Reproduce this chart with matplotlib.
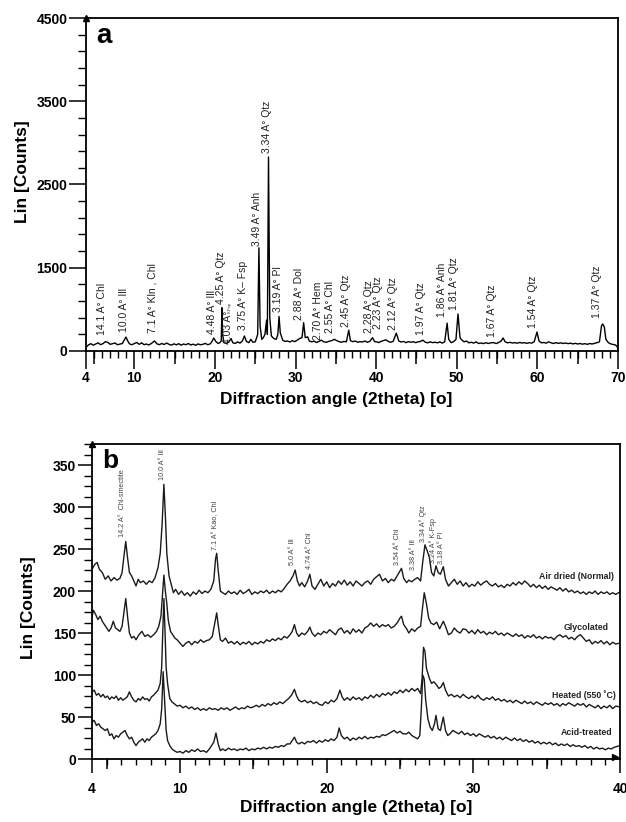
import matplotlib
matplotlib.use('Agg')
from matplotlib import pyplot as plt
from matplotlib.ticker import MultipleLocator, FixedLocator

plt.rcParams['font.family'] = ['Liberation Sans', 'DejaVu Sans']

# ---- panel a: bulk sample pattern (2theta, counts) ----
bulk = [
    (4.0, 545), (4.3, 572), (4.6, 588), (4.9, 570), (5.2, 584), (5.5, 598), (5.8, 576),
    (6.1, 588), (6.4, 612), (6.7, 604), (7.0, 580), (7.3, 588), (7.6, 596), (7.9, 575),
    (8.2, 582), (8.5, 590), (8.8, 640), (8.96, 668), (9.15, 625), (9.4, 585), (9.7, 575),
    (10.0, 590), (10.3, 602), (10.6, 580), (10.9, 598), (11.2, 576), (11.5, 584), (11.8, 572),
    (12.1, 590), (12.5, 620), (12.8, 586), (13.1, 576), (13.4, 590), (13.7, 578), (14.0, 596),
    (14.3, 580), (14.6, 570), (14.9, 586), (15.2, 574), (15.5, 588), (15.8, 570), (16.1, 584),
    (16.4, 575), (16.7, 590), (17.0, 572), (17.3, 582), (17.6, 568), (17.9, 585), (18.2, 575),
    (18.5, 580), (18.8, 592), (19.1, 575), (19.4, 585), (19.6, 610), (19.85, 656), (20.1, 615),
    (20.4, 590), (20.6, 600), (20.78, 620), (20.86, 1020), (20.95, 700), (21.1, 600), (21.4, 592),
    (21.7, 605), (22.0, 650), (22.2, 600), (22.5, 590), (22.8, 610), (23.1, 595), (23.4, 620),
    (23.65, 680), (23.9, 615), (24.2, 600), (24.45, 640), (24.7, 605), (25.0, 610), (25.3, 700),
    (25.45, 1740), (25.6, 800), (25.8, 640), (26.0, 660), (26.2, 700), (26.4, 870), (26.5, 700),
    (26.64, 2830), (26.8, 900), (27.0, 680), (27.3, 650), (27.6, 640), (27.8, 700), (27.95, 915),
    (28.1, 720), (28.4, 630), (28.7, 615), (29.0, 620), (29.3, 608), (29.6, 625), (29.9, 612),
    (30.2, 630), (30.5, 650), (30.8, 660), (31.0, 840), (31.2, 660), (31.5, 670), (31.7, 620),
    (32.0, 610), (32.3, 618), (32.6, 602), (32.9, 615), (33.2, 630), (33.5, 610), (33.8, 605),
    (34.1, 615), (34.5, 625), (34.8, 640), (35.1, 625), (35.4, 612), (35.7, 605), (36.0, 615),
    (36.3, 610), (36.6, 750), (36.8, 625), (37.1, 612), (37.4, 620), (37.7, 605), (38.0, 612),
    (38.3, 608), (38.6, 620), (38.9, 605), (39.2, 615), (39.55, 660), (39.8, 612), (40.1, 610),
    (40.3, 600), (40.6, 615), (40.9, 625), (41.2, 635), (41.5, 615), (41.8, 605), (42.1, 615),
    (42.5, 715), (42.8, 620), (43.1, 608), (43.4, 615), (43.7, 600), (44.0, 612), (44.3, 605),
    (44.6, 612), (44.9, 600), (45.2, 610), (45.5, 615), (45.8, 630), (46.1, 605), (46.4, 598),
    (46.7, 610), (47.0, 600), (47.3, 605), (47.6, 598), (47.9, 610), (48.2, 595), (48.5, 610),
    (48.8, 835), (49.0, 640), (49.3, 600), (49.6, 612), (49.9, 640), (50.15, 945), (50.4, 660),
    (50.6, 635), (50.9, 610), (51.2, 620), (51.5, 598), (51.8, 605), (52.1, 595), (52.4, 610),
    (52.7, 590), (53.0, 596), (53.3, 588), (53.6, 600), (53.9, 590), (54.2, 598), (54.6, 600),
    (54.9, 590), (55.2, 602), (55.5, 620), (55.75, 656), (56.0, 610), (56.3, 598), (56.6, 604),
    (56.9, 596), (57.2, 600), (57.5, 594), (57.8, 602), (58.1, 596), (58.4, 600), (58.7, 592),
    (59.0, 600), (59.3, 595), (59.6, 610), (59.95, 728), (60.2, 620), (60.5, 598), (60.8, 602),
    (61.1, 594), (61.4, 610), (61.7, 598), (62.0, 590), (62.3, 600), (62.6, 592), (62.9, 598),
    (63.2, 590), (63.5, 596), (63.8, 588), (64.1, 594), (64.4, 585), (64.7, 592), (65.0, 584),
    (65.3, 590), (65.6, 582), (65.9, 588), (66.2, 580), (66.5, 590), (66.8, 584), (67.1, 592),
    (67.4, 600), (67.7, 610), (67.95, 800), (68.1, 825), (68.3, 790), (68.5, 640), (68.8, 600),
    (69.1, 585), (69.4, 578), (69.7, 572), (70.0, 540),
]

yticks_a = [500, 1500, 2500, 3500, 4500]
yticklabels_a = ['0', '1500', '2500', '3500', '4500']
xticks_a = [4, 10, 20, 30, 40, 50, 60, 70]

# peak labels: text, 2theta, counts at label foot
labels_a = [
    ("14.1 A° Chl", 6.0, 692), ("10.0 A° Ill", 8.7, 728), ("7.1 A° Kln , Chl", 12.2, 716),
    ("4.48 A° Ill", 19.6, 704), ("4.25 A° Qtz", 20.75, 1060), ("4.03 A°", 21.6, 585),
    ("3.75 A° K– Fsp", 23.5, 752), ("3.49 A° Anh", 25.2, 1762), ("3.34 A° Qtz", 26.4, 2880),
    ("3.19 A° Pl", 27.8, 969), ("2.88 A° Dol", 30.45, 873), ("2.70 A° Hem", 32.8, 632),
    ("2.55 A° Chl", 34.3, 716), ("2.45 A° Qtz", 36.25, 788), ("2.28 A° Qtz", 39.1, 716),
    ("2.23 A° Qtz", 40.2, 764), ("2.12 A° Qtz", 42.1, 752), ("1.97 A° Qtz", 45.6, 692),
    ("1.86 A° Anh", 48.2, 909), ("1.81 A° Qtz", 49.7, 993), ("1.67 A° Qtz", 54.4, 668),
    ("1.54 A° Qtz", 59.5, 776), ("1.37 A° Qtz", 67.4, 897),
]

# ---- panel b: clay fraction patterns ----
air_dried = [
    (4.0, 226), (4.2, 232), (4.35, 234), (4.5, 226), (4.7, 222), (4.9, 214), (5.1, 218), (5.3, 212),
    (5.5, 216), (5.7, 213), (5.9, 215), (6.05, 222), (6.2, 245), (6.3, 259), (6.42, 240), (6.55, 222),
    (6.7, 218), (6.85, 212), (7.0, 206), (7.15, 214), (7.3, 210), (7.5, 212), (7.7, 208), (7.9, 212),
    (8.1, 210), (8.3, 216), (8.5, 228), (8.65, 245), (8.78, 280), (8.9, 327), (9.0, 290), (9.1, 245),
    (9.25, 218), (9.4, 208), (9.55, 198), (9.7, 202), (9.9, 196), (10.1, 200), (10.3, 195), (10.5, 198),
    (10.7, 194), (10.9, 199), (11.1, 196), (11.3, 201), (11.5, 197), (11.7, 200), (11.9, 198), (12.1, 202),
    (12.3, 212), (12.42, 238), (12.5, 245), (12.6, 225), (12.75, 200), (12.9, 198), (13.1, 196), (13.3, 200),
    (13.5, 197), (13.7, 199), (13.9, 196), (14.1, 201), (14.3, 197), (14.5, 199), (14.7, 202), (14.9, 196),
    (15.1, 199), (15.3, 197), (15.5, 200), (15.7, 198), (15.9, 201), (16.1, 197), (16.3, 200), (16.5, 198),
    (16.7, 201), (16.9, 199), (17.1, 203), (17.3, 208), (17.5, 212), (17.7, 218), (17.85, 225), (18.0, 212),
    (18.15, 206), (18.3, 210), (18.5, 205), (18.7, 212), (18.85, 220), (19.0, 206), (19.2, 202), (19.4, 208),
    (19.6, 214), (19.8, 206), (20.0, 211), (20.2, 204), (20.4, 209), (20.6, 206), (20.8, 212), (21.0, 208),
    (21.2, 213), (21.4, 207), (21.6, 211), (21.8, 206), (22.0, 212), (22.2, 209), (22.4, 206), (22.6, 210),
    (22.8, 212), (23.0, 208), (23.2, 214), (23.4, 217), (23.6, 220), (23.8, 212), (24.0, 215), (24.2, 210),
    (24.4, 214), (24.6, 212), (24.8, 218), (25.0, 224), (25.1, 227), (25.25, 215), (25.45, 210), (25.6, 213),
    (25.8, 211), (26.0, 214), (26.2, 216), (26.4, 212), (26.55, 235), (26.7, 255), (26.85, 248), (27.0, 240),
    (27.15, 222), (27.3, 218), (27.45, 230), (27.6, 222), (27.75, 220), (27.95, 229), (28.1, 214), (28.3, 206),
    (28.5, 210), (28.7, 214), (28.9, 208), (29.1, 212), (29.3, 206), (29.5, 210), (29.7, 205), (29.9, 208),
    (30.1, 206), (30.3, 211), (30.5, 207), (30.7, 210), (30.9, 212), (31.1, 208), (31.3, 206), (31.5, 209),
    (31.7, 205), (31.9, 207), (32.1, 204), (32.3, 208), (32.5, 206), (32.7, 210), (32.9, 207), (33.1, 211),
    (33.3, 208), (33.5, 212), (33.7, 209), (33.9, 205), (34.1, 208), (34.3, 204), (34.5, 207), (34.7, 203),
    (34.9, 206), (35.1, 202), (35.3, 205), (35.5, 203), (35.7, 201), (35.9, 204), (36.1, 200), (36.3, 203),
    (36.5, 199), (36.7, 201), (36.9, 198), (37.1, 200), (37.3, 197), (37.5, 199), (37.7, 196), (37.9, 199),
    (38.1, 197), (38.3, 200), (38.5, 196), (38.7, 199), (38.9, 197), (39.1, 199), (39.3, 196), (39.5, 198),
    (39.7, 196), (40.0, 199),
]

glycolated = [
    (4.0, 170), (4.1, 177), (4.25, 172), (4.4, 166), (4.55, 170), (4.7, 164), (4.85, 160), (5.0, 156),
    (5.15, 152), (5.3, 156), (5.45, 164), (5.6, 156), (5.75, 154), (5.9, 152), (6.05, 158), (6.2, 178),
    (6.3, 191), (6.42, 170), (6.55, 150), (6.7, 144), (6.85, 146), (7.0, 142), (7.2, 148), (7.4, 152),
    (7.6, 146), (7.8, 148), (8.0, 145), (8.2, 148), (8.4, 152), (8.55, 158), (8.7, 170), (8.8, 195),
    (8.9, 219), (9.0, 200), (9.1, 185), (9.2, 165), (9.35, 152), (9.5, 148), (9.65, 144), (9.8, 142),
    (10.0, 138), (10.2, 134), (10.4, 138), (10.6, 140), (10.8, 136), (11.0, 140), (11.2, 138), (11.4, 142),
    (11.6, 139), (11.8, 141), (12.0, 142), (12.2, 146), (12.35, 160), (12.5, 174), (12.6, 160), (12.75, 142),
    (12.9, 140), (13.1, 144), (13.3, 138), (13.5, 140), (13.7, 137), (13.9, 140), (14.1, 136), (14.3, 139),
    (14.5, 137), (14.7, 140), (14.9, 136), (15.1, 139), (15.3, 137), (15.5, 140), (15.7, 138), (15.9, 142),
    (16.1, 140), (16.3, 143), (16.5, 141), (16.7, 144), (16.9, 142), (17.1, 146), (17.3, 144), (17.5, 148),
    (17.65, 152), (17.8, 160), (17.95, 150), (18.1, 146), (18.3, 150), (18.5, 148), (18.7, 152), (18.85, 157),
    (19.0, 150), (19.2, 146), (19.4, 150), (19.6, 148), (19.8, 152), (20.0, 150), (20.2, 154), (20.4, 151),
    (20.6, 148), (20.8, 154), (21.0, 156), (21.2, 150), (21.4, 153), (21.6, 149), (21.8, 155), (22.0, 151),
    (22.2, 154), (22.4, 150), (22.6, 156), (22.8, 158), (23.0, 162), (23.2, 158), (23.4, 161), (23.6, 157),
    (23.8, 160), (24.0, 158), (24.2, 160), (24.4, 156), (24.6, 158), (24.8, 162), (25.0, 168), (25.1, 170),
    (25.25, 160), (25.45, 155), (25.6, 150), (25.8, 155), (26.0, 152), (26.2, 156), (26.4, 158), (26.5, 175),
    (26.65, 198), (26.8, 185), (26.95, 168), (27.1, 162), (27.3, 160), (27.5, 163), (27.7, 155), (27.95, 164),
    (28.1, 158), (28.3, 148), (28.5, 150), (28.7, 156), (28.9, 152), (29.1, 150), (29.3, 155), (29.5, 154),
    (29.7, 150), (29.9, 153), (30.1, 149), (30.3, 154), (30.5, 150), (30.7, 152), (30.9, 148), (31.1, 151),
    (31.3, 149), (31.5, 152), (31.7, 148), (31.9, 150), (32.1, 147), (32.3, 150), (32.5, 148), (32.7, 146),
    (32.9, 149), (33.1, 146), (33.3, 148), (33.5, 144), (33.7, 147), (33.9, 145), (34.1, 148), (34.3, 144),
    (34.5, 146), (34.7, 143), (34.9, 146), (35.1, 144), (35.3, 145), (35.5, 142), (35.7, 146), (35.9, 148),
    (36.1, 145), (36.3, 147), (36.5, 143), (36.7, 145), (36.9, 142), (37.1, 146), (37.3, 148), (37.5, 144),
    (37.7, 140), (37.9, 142), (38.1, 137), (38.3, 140), (38.5, 138), (38.7, 141), (38.9, 137), (39.1, 140),
    (39.3, 136), (39.5, 139), (39.7, 137), (40.0, 138),
]

heated = [
    (4.0, 80), (4.15, 82), (4.3, 76), (4.45, 78), (4.6, 74), (4.75, 77), (4.9, 73), (5.05, 75),
    (5.2, 71), (5.35, 74), (5.5, 72), (5.65, 75), (5.8, 70), (5.95, 73), (6.1, 70), (6.25, 72),
    (6.4, 74), (6.55, 80), (6.7, 74), (6.85, 70), (7.0, 68), (7.15, 72), (7.3, 70), (7.45, 74),
    (7.6, 71), (7.75, 72), (7.9, 69), (8.05, 74), (8.2, 76), (8.35, 79), (8.5, 82), (8.65, 90),
    (8.75, 110), (8.82, 150), (8.9, 191), (8.98, 150), (9.05, 110), (9.15, 90), (9.3, 72), (9.45, 68),
    (9.6, 66), (9.8, 63), (10.0, 64), (10.2, 61), (10.4, 63), (10.6, 60), (10.8, 62), (11.0, 59),
    (11.2, 61), (11.4, 58), (11.6, 60), (11.8, 58), (12.0, 61), (12.2, 59), (12.4, 60), (12.6, 58),
    (12.8, 61), (13.0, 59), (13.2, 61), (13.4, 58), (13.6, 60), (13.8, 62), (14.0, 59), (14.2, 61),
    (14.4, 60), (14.6, 63), (14.8, 61), (15.0, 62), (15.2, 64), (15.4, 62), (15.6, 65), (15.8, 63),
    (16.0, 66), (16.2, 64), (16.4, 67), (16.6, 65), (16.8, 68), (17.0, 66), (17.2, 69), (17.4, 72),
    (17.6, 76), (17.8, 83), (17.95, 75), (18.1, 70), (18.3, 68), (18.5, 70), (18.7, 67), (18.9, 69),
    (19.1, 66), (19.3, 68), (19.5, 65), (19.7, 64), (19.9, 68), (20.1, 66), (20.3, 70), (20.5, 68),
    (20.7, 72), (20.9, 82), (21.05, 74), (21.2, 70), (21.4, 73), (21.6, 70), (21.8, 74), (22.0, 71),
    (22.2, 73), (22.4, 70), (22.6, 74), (22.8, 72), (23.0, 76), (23.2, 73), (23.4, 77), (23.6, 74),
    (23.8, 78), (24.0, 76), (24.2, 79), (24.4, 76), (24.6, 80), (24.8, 78), (25.0, 82), (25.2, 79),
    (25.4, 83), (25.6, 80), (25.8, 84), (26.0, 81), (26.2, 84), (26.4, 78), (26.5, 95), (26.6, 133),
    (26.7, 128), (26.8, 108), (26.9, 102), (27.0, 96), (27.15, 90), (27.3, 92), (27.5, 88), (27.65, 84),
    (27.8, 86), (27.95, 91), (28.1, 82), (28.3, 75), (28.5, 77), (28.7, 74), (28.9, 76), (29.1, 73),
    (29.3, 77), (29.5, 74), (29.7, 72), (29.9, 75), (30.1, 72), (30.3, 76), (30.5, 72), (30.7, 70),
    (30.9, 73), (31.1, 71), (31.3, 74), (31.5, 70), (31.7, 72), (31.9, 69), (32.1, 71), (32.3, 68),
    (32.5, 70), (32.7, 67), (32.9, 70), (33.1, 68), (33.3, 66), (33.5, 69), (33.7, 66), (33.9, 68),
    (34.1, 65), (34.3, 68), (34.5, 66), (34.7, 64), (34.9, 67), (35.1, 65), (35.3, 67), (35.5, 64),
    (35.7, 66), (35.9, 63), (36.1, 66), (36.3, 64), (36.5, 67), (36.7, 65), (36.9, 63), (37.1, 66),
    (37.3, 64), (37.5, 66), (37.7, 62), (37.9, 65), (38.1, 63), (38.3, 61), (38.5, 64), (38.7, 60),
    (38.9, 63), (39.1, 61), (39.3, 64), (39.5, 60), (39.7, 63), (40.0, 62),
]

acid_treated = [
    (4.0, 44), (4.15, 46), (4.3, 40), (4.45, 42), (4.6, 38), (4.75, 36), (4.9, 34), (5.05, 36),
    (5.2, 28), (5.35, 30), (5.5, 24), (5.65, 28), (5.8, 26), (5.95, 30), (6.1, 32), (6.25, 34),
    (6.4, 28), (6.55, 24), (6.7, 26), (6.85, 20), (7.0, 16), (7.15, 20), (7.3, 22), (7.45, 24),
    (7.6, 20), (7.75, 24), (7.9, 22), (8.05, 26), (8.2, 28), (8.35, 30), (8.5, 34), (8.65, 42),
    (8.75, 60), (8.85, 104), (8.95, 70), (9.05, 35), (9.15, 22), (9.3, 16), (9.45, 12), (9.6, 10),
    (9.8, 8), (10.0, 9), (10.2, 7), (10.4, 10), (10.6, 8), (10.8, 11), (11.0, 9), (11.2, 12),
    (11.4, 9), (11.6, 10), (11.8, 8), (12.0, 12), (12.15, 16), (12.3, 20), (12.45, 31), (12.6, 18),
    (12.75, 10), (12.9, 12), (13.1, 10), (13.3, 13), (13.5, 11), (13.7, 12), (13.9, 10), (14.1, 12),
    (14.3, 11), (14.5, 13), (14.7, 10), (14.9, 12), (15.1, 11), (15.3, 13), (15.5, 12), (15.7, 14),
    (15.9, 12), (16.1, 14), (16.3, 13), (16.5, 15), (16.7, 14), (16.9, 16), (17.1, 15), (17.3, 18),
    (17.5, 18), (17.65, 22), (17.8, 26), (17.95, 20), (18.1, 18), (18.3, 20), (18.5, 18), (18.7, 21),
    (18.9, 20), (19.1, 22), (19.3, 19), (19.5, 22), (19.7, 20), (19.9, 23), (20.1, 21), (20.3, 24),
    (20.5, 22), (20.7, 26), (20.85, 37), (21.0, 28), (21.2, 24), (21.4, 26), (21.6, 22), (21.8, 25),
    (22.0, 23), (22.2, 26), (22.4, 24), (22.6, 27), (22.8, 24), (23.0, 26), (23.2, 25), (23.4, 27),
    (23.6, 26), (23.8, 29), (24.0, 28), (24.2, 30), (24.4, 32), (24.6, 34), (24.8, 31), (25.0, 33),
    (25.2, 30), (25.45, 30), (25.6, 32), (25.8, 28), (26.0, 26), (26.2, 24), (26.35, 28), (26.45, 60),
    (26.55, 100), (26.65, 95), (26.75, 70), (26.9, 48), (27.05, 38), (27.2, 34), (27.35, 42), (27.45, 52),
    (27.6, 36), (27.75, 34), (27.85, 42), (27.95, 50), (28.1, 34), (28.25, 28), (28.4, 30), (28.6, 34),
    (28.8, 32), (29.0, 30), (29.2, 33), (29.4, 29), (29.6, 31), (29.8, 28), (30.0, 30), (30.2, 27),
    (30.4, 30), (30.6, 28), (30.8, 26), (31.0, 28), (31.2, 25), (31.4, 27), (31.6, 24), (31.8, 26),
    (32.0, 23), (32.2, 26), (32.4, 24), (32.6, 22), (32.8, 25), (33.0, 22), (33.2, 24), (33.4, 21),
    (33.6, 23), (33.8, 20), (34.0, 22), (34.2, 19), (34.4, 21), (34.6, 18), (34.8, 20), (35.0, 18),
    (35.2, 20), (35.4, 17), (35.6, 19), (35.8, 16), (36.0, 18), (36.2, 16), (36.4, 18), (36.6, 15),
    (36.8, 17), (37.0, 15), (37.2, 16), (37.4, 14), (37.6, 16), (37.8, 13), (38.0, 15), (38.2, 12),
    (38.4, 14), (38.6, 12), (38.8, 13), (39.0, 11), (39.2, 13), (39.4, 12), (39.6, 14), (39.8, 15),
    (40.0, 16),
]

series_b = [air_dried, glycolated, heated, acid_treated]
series_names = ['Air dried (Normal)', 'Glycolated', 'Heated (550 ˚C)', 'Acid-treated']
# where each name sits: right end x, y
name_pos = [(39.6, 217), (39.2, 156), (39.7, 76), (39.5, 32)]

labels_b = [
    ("14.2 A°  Chl-smectite", 6.1, 264), ("10.0 A° Ill", 8.8, 332), ("7.1 A° Kao, Chl", 12.4, 249),
    ("5.0 A° Ill", 17.65, 231), ("4.74 A° Chl", 18.8, 226), ("3.54 A° Chl", 24.8, 231),
    ("3.38 A° Ill", 25.95, 225), ("3.34 A° Qtz", 26.55, 258), ("3.24 A° K-Fsp", 27.25, 233),
    ("3.18 A° Pl", 27.85, 232),
]
xticks_b = [4, 10, 20, 30, 40]
yticks_b = [0, 50, 100, 150, 200, 250, 300, 350]


def style_axis(ax, xlim, xticks, mid_ticks, long_len, mid_len, short_len, ylen, yminlen, xpad):
    ax.set_xlim(*xlim)
    ax.set_xticks(xticks)
    ax.set_xticklabels([str(t) for t in xticks], fontweight='bold', fontsize=10)
    ax.xaxis.set_minor_locator(MultipleLocator(1))
    ax.tick_params(axis='x', which='major', direction='out', length=long_len, width=1.1, pad=xpad)
    ax.tick_params(axis='x', which='minor', direction='out', length=short_len, width=1.0)
    ax.tick_params(axis='y', which='major', direction='out', length=ylen, width=1.1, pad=1.5)
    ax.tick_params(axis='y', which='minor', direction='out', length=yminlen, width=1.0)
    sec = ax.secondary_xaxis('bottom')
    sec.set_xticks(mid_ticks)
    sec.tick_params(axis='x', direction='out', length=mid_len, width=1.1, labelbottom=False)
    sec.spines['bottom'].set_visible(False)
    for s in ax.spines.values():
        s.set_linewidth(1.3)
    for lab in ax.get_yticklabels():
        lab.set_fontweight('bold')
        lab.set_fontsize(10)


fig = plt.figure(figsize=(6.26, 8.22), dpi=100)

# panel a
ax = fig.add_axes([0.1374, 0.5730, 0.8498, 0.4051])
xa = [p[0] for p in bulk]
ya = [p[1] for p in bulk]
ax.plot(xa, ya, color='black', lw=1.0)
ax.set_ylim(500, 4500)
ax.set_yticks(yticks_a)
ax.set_yticklabels(yticklabels_a)
ax.yaxis.set_minor_locator(FixedLocator(list(range(500, 4501, 200))))
style_axis(ax, (4, 70), xticks_a, [5, 15, 25, 35, 45, 55, 65], 13, 9, 5, 12, 6, 1.5)
for txt, x, y in labels_a:
    ax.text(x, y, txt, rotation=90, ha='center', va='bottom', fontsize=7.5, color='#222222')
ax.text(21.85, 960, "K-Fsp", rotation=90, ha='center', va='bottom', fontsize=3, color='#222222')
ax.text(0.02, 0.985, 'a', transform=ax.transAxes, fontsize=20, fontweight='bold', va='top')
ax.plot([0.0], [1.0], marker='^', color='black', ms=5, transform=ax.transAxes, clip_on=False)
ax.set_ylabel('Lin [Counts]', fontsize=12.5, fontweight='bold')
ax.yaxis.set_label_coords(-0.105, 0.54)
ax.set_xlabel('Diffraction angle (2theta) [o]', fontsize=12.5, fontweight='bold')
ax.xaxis.set_label_coords(0.47, -0.123)
ax.xaxis.label.set_va('top')

# panel b
ax = fig.add_axes([0.1470, 0.0766, 0.8435, 0.3832])
for trace in series_b:
    ax.plot([p[0] for p in trace], [p[1] for p in trace], color='#1a1a1a', lw=1.0)
ax.set_ylim(0, 375)
ax.set_yticks(yticks_b)
ax.yaxis.set_minor_locator(MultipleLocator(12.5))
style_axis(ax, (4, 40), xticks_b, [5, 15, 25, 35], 10, 7, 4, 10, 5.5, 6.5)
for txt, x, y in labels_b:
    ax.text(x, y, txt, rotation=90, ha='center', va='bottom', fontsize=5.2, color='#444444')
for name, (x, y) in zip(series_names, name_pos):
    ax.text(x, y, name, ha='right', va='center', fontsize=6.3, fontweight='bold', color='#222222')
ax.text(0.02, 0.985, 'b', transform=ax.transAxes, fontsize=19, fontweight='bold', va='top')
ax.plot([0.0], [1.0], marker='^', color='black', ms=5, transform=ax.transAxes, clip_on=False)
ax.plot([0.99], [0.008], marker='>', color='black', ms=5, transform=ax.transAxes, clip_on=False)
ax.set_ylabel('Lin [Counts]', fontsize=12.5, fontweight='bold')
ax.yaxis.set_label_coords(-0.106, 0.48)
ax.set_xlabel('Diffraction angle (2theta) [o]', fontsize=12.5, fontweight='bold')
ax.xaxis.set_label_coords(0.5, -0.13)
ax.xaxis.label.set_va('top')

plt.savefig('out.png', dpi=100)
